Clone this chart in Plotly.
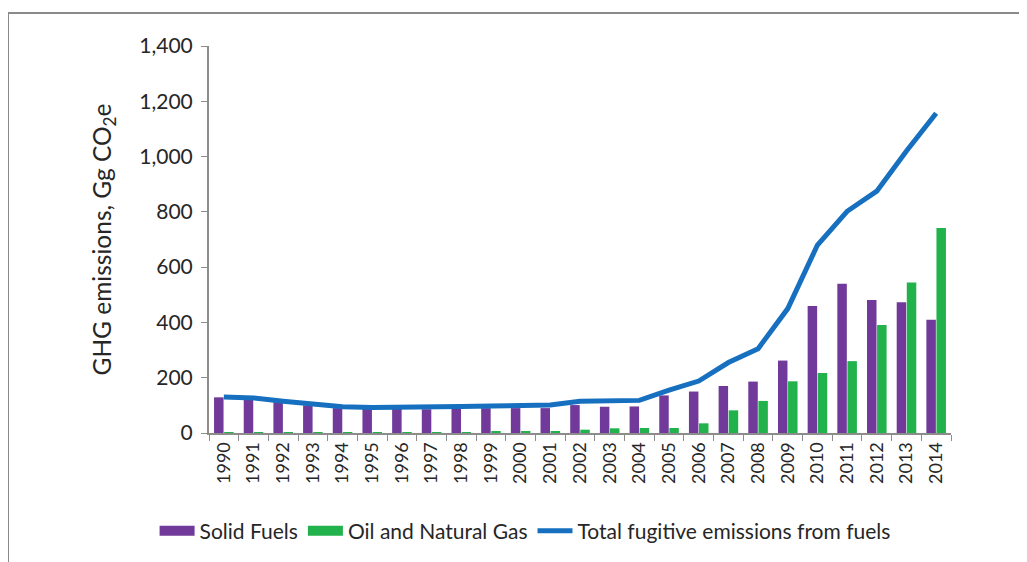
import plotly.graph_objects as go

years = [str(y) for y in range(1990, 2015)]
solid_fuels = [129, 122, 112, 100, 90, 88, 88, 86, 90, 90, 90, 90, 101, 95, 96,
               136, 150, 170, 186, 262, 459, 540, 481, 473, 410]
oil_gas = [0.5, 0.5, 0.5, 0.5, 0.5, 0.5, 0.5, 0.5, 2, 6, 4, 6, 12, 17, 18,
           18, 35, 82, 116, 187, 217, 260, 391, 544, 742]
total = [130, 127, 115, 104, 95, 92, 93, 91, 96, 98, 100, 101, 115, 116, 118,
         155, 188, 255, 305, 450, 680, 802, 875, 1020, 1157]

FONT = "Lato"
TXT = "#262626"
AX = "#8c8c8c"
PURPLE = "#70399a"
GREEN = "#21b24c"
BLUE = "#1670bf"

fig = go.Figure()
fig.add_trace(go.Bar(x=years, y=solid_fuels, name="Solid Fuels",
                     marker=dict(color=PURPLE, line=dict(width=0)),
                     showlegend=False, legendgroup="sf"))
fig.add_trace(go.Bar(x=years, y=oil_gas, name="Oil and Natural Gas",
                     marker=dict(color=GREEN, line=dict(width=0)),
                     showlegend=False, legendgroup="og"))
fig.add_trace(go.Scatter(x=years, y=total, mode="lines",
                         name="Total fugitive emissions from fuels",
                         line=dict(color=BLUE, width=5), showlegend=False,
                         legendgroup="tot"))
# legend entries (wide rectangular keys as in the original)
fig.add_trace(go.Scatter(x=[None], y=[None], mode="lines", name="Solid Fuels",
                         line=dict(color=PURPLE, width=13), legendgroup="sf"))
fig.add_trace(go.Scatter(x=[None], y=[None], mode="lines",
                         name="Oil and Natural Gas",
                         line=dict(color=GREEN, width=13), legendgroup="og"))
fig.add_trace(go.Scatter(x=[None], y=[None], mode="lines",
                         name="Total fugitive emissions from fuels",
                         line=dict(color=BLUE, width=5), legendgroup="tot"))

fig.update_layout(
    width=1019, height=554,
    margin=dict(l=201, r=76, t=38, b=128),
    paper_bgcolor="white", plot_bgcolor="white",
    font=dict(family=FONT, size=20, color=TXT),
    barmode="group", bargap=0.32, bargroupgap=0.06,
    showlegend=True,
    legend=dict(orientation="h", x=0.426, xanchor="center",
                y=-0.25, yanchor="middle", font=dict(size=21, color=TXT),
                traceorder="normal", itemclick=False, itemwidth=35),
    xaxis=dict(type="category", tickson="boundaries", ticks="outside",
               ticklen=6, tickcolor=AX, showline=True, linecolor=AX,
               linewidth=2, tickangle=-90, showgrid=False,
               tickfont=dict(size=18, color=TXT)),
    yaxis=dict(range=[0, 1400], dtick=200, tickformat=",", ticks="outside",
               ticklen=6, tickcolor=AX, showline=True, linecolor=AX,
               linewidth=2, showgrid=False, zeroline=False,
               ticklabelstandoff=4,
               tickfont=dict(size=21, color=TXT),
               title=dict(text="GHG emissions, Gg CO<sub>2</sub>e",
                          font=dict(size=24.5, color=TXT), standoff=21)),
    shapes=[
        dict(type="line", xref="paper", yref="paper",
             x0=-0.2709, x1=-0.2709, y0=-0.34, y1=1.0851,
             line=dict(color="#8a8a8a", width=2)),
        dict(type="line", xref="paper", yref="paper",
             x0=-0.2709, x1=1.11, y0=1.0851, y1=1.0851,
             line=dict(color="#8a8a8a", width=2)),
    ],
)

fig.write_html("out.html")
